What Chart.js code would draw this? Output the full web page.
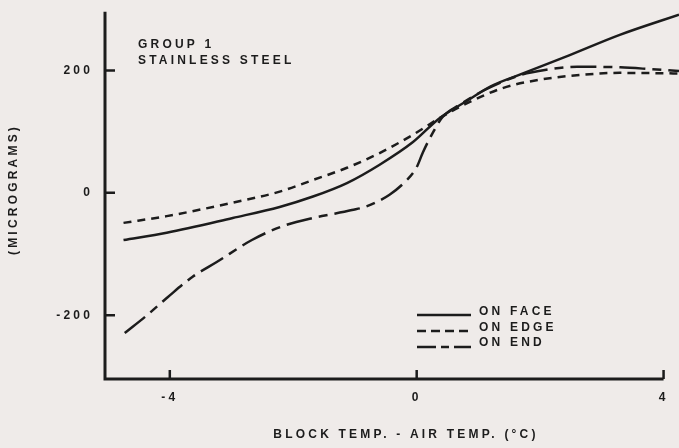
<!DOCTYPE html>
<html>
<head>
<meta charset="utf-8">
<script src="https://cdn.jsdelivr.net/npm/chart.js@4"></script>
<style>
  html, body { margin: 0; padding: 0; background: #efebe9; }
  canvas { display: block; }
</style>
</head>
<body>
<canvas id="chart" width="679" height="448"></canvas>
<script>
const xTicks = [-4, 0, 4]
const yTicks = [-200, 0, 200]
const seriesNames = ['ON FACE', 'ON EDGE', 'ON END']

const faceX = [-4.75, -4.05, -2.98, -2.22, -1.68, -1.13, -0.6, -0.06, 0.37, 0.81, 1.2, 1.67, 2.48, 3.29, 4.25]
const faceY = [-77, -65, -41, -23, -6, 16, 46, 83, 122, 150, 174, 193, 225, 258, 291]

const edgeX = [-4.75, -4.05, -2.98, -2.22, -1.68, -1.13, -0.6, -0.06, 0.37, 0.81, 1.39, 1.94, 2.48, 3.29, 4.25]
const edgeY = [-49, -38, -16, 2, 21, 41, 65, 95, 122, 146, 171, 184, 191, 196, 195]

const endX = [-4.73, -4.36, -4.03, -3.63, -3.24, -2.67, -2.19, -1.68, -1.33, -1.05, -0.84, -0.44, -0.16, 0.0, 0.1, 0.26, 0.42, 0.7, 1.1, 1.67, 2.1, 2.6, 3.3, 3.8, 4.25]
const endY = [-229, -199, -170, -137, -113, -77, -55, -41, -34, -28, -23, -3, 21, 42, 66, 98, 124, 144, 168, 192, 201, 206, 205, 202, 199]

const toPoints = (xs, ys) => xs.map((x, i) => ({ x, y: ys[i] }))

const ink = '#1c1c1c'
const paper = '#efebe9'
const family = '"Liberation Sans", Arial, sans-serif'
const font = 'bold 12px ' + family
const spacing = '3.2px'

// paper colour, hand-drawn style axes, note and key
const paperPlugin = {
  id: 'paper',
  beforeDraw (chart) {
    const { ctx, width, height } = chart
    ctx.save()
    ctx.fillStyle = paper
    ctx.fillRect(0, 0, width, height)
    ctx.restore()
    ctx.letterSpacing = spacing
  },
  afterDraw (chart) {
    const { ctx, chartArea, scales: { x, y } } = chart
    const left = chartArea.left
    const bottom = chartArea.bottom
    ctx.save()
    ctx.strokeStyle = ink
    ctx.lineWidth = 3
    ctx.beginPath()
    ctx.moveTo(left, y.getPixelForValue(296))
    ctx.lineTo(left, bottom)
    ctx.lineTo(x.getPixelForValue(4), bottom)
    ctx.stroke()

    ctx.lineWidth = 2.5
    ctx.beginPath()
    yTicks.forEach(v => {
      const py = y.getPixelForValue(v)
      ctx.moveTo(left, py)
      ctx.lineTo(left + 10, py)
    })
    xTicks.forEach(v => {
      const px = x.getPixelForValue(v)
      ctx.moveTo(px, bottom)
      ctx.lineTo(px, bottom - 9)
    })
    ctx.stroke()

    ctx.font = font
    ctx.fillStyle = ink
    ctx.textBaseline = 'middle'
    ctx.textAlign = 'left'
    ctx.fillText('GROUP 1', 138, 44.5)
    ctx.fillText('STAINLESS STEEL', 138, 60.5)

    ctx.textAlign = 'center'
    ctx.fillText('BLOCK TEMP. - AIR TEMP. (°C)', 406, 434.5)

    // key
    const keyDash = [[], [9, 5], [19, 5, 8, 5]]
    const lineY = [315, 331, 347]
    const textY = [311.5, 327.5, 342.5]
    ctx.textAlign = 'left'
    ctx.lineWidth = 2.5
    seriesNames.forEach((name, i) => {
      ctx.setLineDash(keyDash[i])
      ctx.beginPath()
      ctx.moveTo(417, lineY[i])
      ctx.lineTo(471, lineY[i])
      ctx.stroke()
      ctx.fillText(name, 479, textY[i])
    })
    ctx.restore()
  }
}

const noPadding = scale => {
  scale.paddingTop = 0
  scale.paddingBottom = 0
  scale.paddingLeft = 0
  scale.paddingRight = 0
}

const lineStyle = {
  borderColor: ink,
  borderWidth: 2.5,
  pointRadius: 0,
  fill: false,
  cubicInterpolationMode: 'monotone',
  borderCapStyle: 'butt'
}

const config = {
  type: 'line',
  data: {
    datasets: [
      { ...lineStyle, label: seriesNames[0], data: toPoints(faceX, faceY) },
      { ...lineStyle, label: seriesNames[1], data: toPoints(edgeX, edgeY), borderDash: [8, 6] },
      { ...lineStyle, label: seriesNames[2], data: toPoints(endX, endY), borderDash: [26, 7, 9, 7] }
    ]
  },
  options: {
    responsive: false,
    animation: false,
    devicePixelRatio: 1,
    layout: { padding: 0 },
    plugins: {
      legend: { display: false },
      title: { display: false },
      tooltip: { enabled: false }
    },
    scales: {
      x: {
        type: 'linear',
        min: -5.05,
        max: 4.25,
        afterBuildTicks: scale => { scale.ticks = xTicks.map(v => ({ value: v })) },
        afterFit: scale => { scale.height = 69; noPadding(scale) },
        grid: { display: false, drawTicks: false },
        border: { display: false },
        ticks: {
          color: ink,
          font: { family, size: 12, weight: 'bold' },
          padding: 11,
          maxRotation: 0,
          callback: v => String(v)
        }
      },
      y: {
        type: 'linear',
        min: -304,
        max: 315,
        afterBuildTicks: scale => { scale.ticks = yTicks.map(v => ({ value: v })) },
        afterFit: scale => { scale.width = 105; noPadding(scale) },
        grid: { display: false, drawTicks: false },
        border: { display: false },
        ticks: {
          color: ink,
          font: { family, size: 12, weight: 'bold' },
          padding: 12,
          callback: v => String(v)
        },
        title: {
          display: true,
          text: '(MICROGRAMS)',
          color: ink,
          font: { family, size: 12, weight: 'bold' },
          padding: { top: 6, bottom: 0 }
        }
      }
    }
  },
  plugins: [paperPlugin]
}

new Chart(document.getElementById('chart'), config) // eslint-disable-line
</script>
</body>
</html>
